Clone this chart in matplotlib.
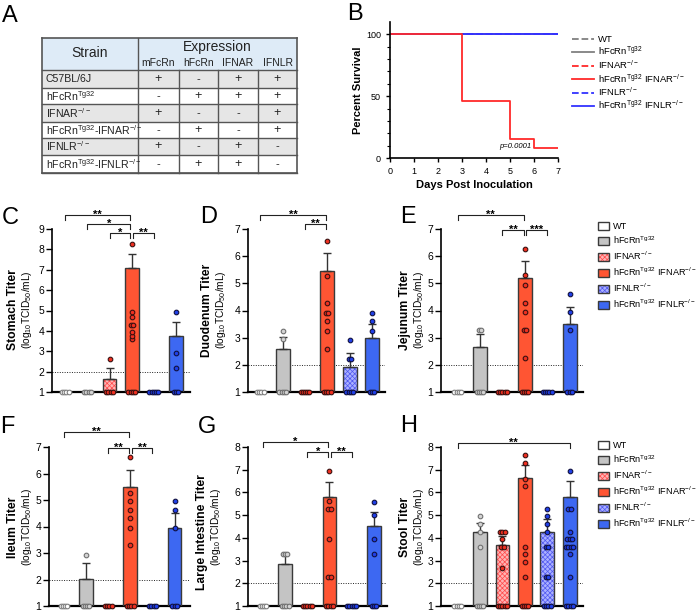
import matplotlib
matplotlib.use("Agg")
import matplotlib.pyplot as plt
from matplotlib.patches import Rectangle, Patch
import numpy as np

plt.rcParams['font.family'] = ['Liberation Sans', 'DejaVu Sans']
plt.rcParams['mathtext.fontset'] = 'custom'
plt.rcParams['mathtext.rm'] = 'Liberation Sans'
plt.rcParams['mathtext.it'] = 'Liberation Sans:italic'
plt.rcParams['mathtext.bf'] = 'Liberation Sans:bold'
plt.rcParams['hatch.linewidth'] = 0.5

W, H = 696, 613
TG = r'$^{\mathregular{Tg32}}$'
KO = r'$^{\mathregular{-/-}}$'

# ---- panel A table ----
strains = ['C57BL/6J', 'hFcRn' + TG, 'IFNAR' + KO, 'hFcRn' + TG + '-IFNAR' + KO,
           'IFNLR' + KO, 'hFcRn' + TG + '-IFNLR' + KO]
expr_cols = ['mFcRn', 'hFcRn', 'IFNAR', 'IFNLR']
expr = [['+', '-', '+', '+'],
        ['-', '+', '+', '+'],
        ['+', '-', '-', '+'],
        ['-', '+', '-', '+'],
        ['+', '-', '+', '-'],
        ['-', '+', '+', '-']]

# ---- panel B survival ----
surv_days = [0, 3, 5, 6, 7]
surv_ifnar_hfcrn = [100, 46, 15, 8, 8]
surv_flat_days = [0, 7]
surv_flat = [100, 100]

# ---- bar panels ----
groups = ['WT', 'hFcRn' + TG, 'IFNAR' + KO, 'hFcRn' + TG + ' IFNAR' + KO,
          'IFNLR' + KO, 'hFcRn' + TG + ' IFNLR' + KO]

stomach_mean = [1, 1, 1.62, 7.1, 1, 3.75]
stomach_sem = [0, 0, 0.58, 0.68, 0, 0.7]
stomach_pts = [[1] * 4, [1] * 4, [2.6] + [1] * 4,
               [8.25, 4.93, 4.66, 4.3, 4.3, 3.95, 3.75, 3.6] + [1] * 4,
               [1] * 5, [4.93, 2.93, 2.2] + [1] * 3]

duod_mean = [1, 2.57, 1, 5.45, 1.93, 3.0]
duod_sem = [0, 0.46, 0, 0.68, 0.51, 0.5]
duod_pts = [[1] * 4, [3.25, 2.95] + [1] * 4, [1] * 5,
            [6.57, 5.27, 4.26, 3.92, 3.92, 3.62, 3.25, 2.6] + [1] * 4,
            [2.9, 2.23, 2.23] + [1] * 4, [3.92, 3.62, 3.25] + [1] * 3]

jej_mean = [1, 2.66, 1, 5.18, 1, 3.52]
jej_sem = [0, 0.46, 0, 0.64, 0, 0.62]
jej_pts = [[1] * 4, [3.27, 3.27] + [1] * 4, [1] * 5,
           [6.26, 5.3, 4.94, 4.28, 3.94, 3.28, 3.28, 2.25] + [1] * 4,
           [1] * 5, [4.59, 3.95, 3.28] + [1] * 3]

ileum_mean = [1, 2.02, 1, 5.5, 1, 3.95]
ileum_sem = [0, 0.59, 0, 0.64, 0, 0.57]
ileum_pts = [[1] * 4, [2.94] + [1] * 4, [1] * 4,
             [6.61, 5.28, 4.97, 4.64, 4.32, 3.95, 3.29] + [1] * 4,
             [1] * 4, [4.96, 4.64, 3.95] + [1] * 3]

li_mean = [1, 2.84, 1, 5.82, 1, 4.51]
li_sem = [0, 0.43, 0, 0.66, 0, 0.62]
li_pts = [[1] * 4, [3.3] * 3 + [1] * 4, [1] * 5,
          [6.95, 5.62, 5.28, 5.28, 3.94, 2.26, 2.26] + [1] * 4,
          [1] * 5, [5.6, 4.99, 3.95, 3.3] + [1] * 3]

stool_mean = [1, 4.27, 3.67, 6.64, 4.27, 5.81]
stool_sem = [0, 0.4, 0.43, 0.57, 0.57, 0.68]
stool_pts = [[1] * 4, [4.96, 4.63, 4.27, 3.6] + [1] * 4,
             [4.27, 4.27, 4.27, 3.96, 3.6, 3.6, 2.68] + [1] * 5,
             [7.64, 7.31, 6.61, 6.28, 3.6, 3.27, 2.95, 2.26] + [1] * 4,
             [5.28, 4.95, 4.59, 4.27, 3.6, 3.6, 2.26, 2.26] + [1] * 4,
             [6.95, 5.28, 5.28, 4.27, 3.95, 3.95, 3.95, 3.6, 3.6, 3.6, 3.6, 3.27, 2.26] + [1] * 4]

# styles
bar_face = ['white', '#c4c4c4', '#ffb4b4', '#ff5533', '#aab0ff', '#3d68f2']
bar_hatch = [None, None, 'xxxxxxx', None, 'xxxxxxx', None]
hatch_col = [None, None, '#ff4a4a', None, '#5058f0', None]
pt_face = ['white', '#d4d4d4', '#f03020', '#f03020', '#2040e8', '#2040e8']
pt_edge = ['#808080', '#707070', '#3a1010', '#3a1010', '#101040', '#101040']
EDGE = '#3a3a3a'

fig = plt.figure(figsize=(W / 100, H / 100), dpi=100)


def fx(x):
    return x / W


def fy(y):
    return 1 - y / H


def add_ax(l, t, r, b):
    return fig.add_axes([l / W, 1 - b / H, (r - l) / W, (b - t) / H])


# overlay in pixel coordinates for the table
ax0 = fig.add_axes([0, 0, 1, 1])
ax0.set_xlim(0, W)
ax0.set_ylim(H, 0)
ax0.axis('off')

col_edges = [42, 138, 179, 218, 258, 297]
row_edges = [70, 88, 104, 122, 138, 155, 173]
hdr_top = 38
tcol = '#555555'
ax0.add_patch(Rectangle((42, hdr_top), 255, 70 - hdr_top, facecolor='#deebf7', edgecolor='none'))
for i in range(6):
    fc = '#e6e6e6' if i % 2 == 0 else 'white'
    ax0.add_patch(Rectangle((42, row_edges[i]), 255, row_edges[i + 1] - row_edges[i],
                            facecolor=fc, edgecolor='none'))
for y in row_edges:
    ax0.plot([42, 297], [y, y], color=tcol, lw=1)
ax0.plot([42, 297], [hdr_top, hdr_top], color=tcol, lw=1.2)
ax0.plot([42, 297], [173, 173], color=tcol, lw=1.2)
ax0.plot([42, 42], [hdr_top, 173], color=tcol, lw=1.2)
ax0.plot([297, 297], [hdr_top, 173], color=tcol, lw=1.2)
ax0.plot([138, 138], [hdr_top, 173], color=tcol, lw=1)
for x in col_edges[2:-1]:
    ax0.plot([x, x], [70, 173], color=tcol, lw=1)
ax0.text(90, 53, 'Strain', ha='center', va='center', fontsize=10, color='#222222')
ax0.text(217, 47, 'Expression', ha='center', va='center', fontsize=10, color='#222222')
for j, c in enumerate(expr_cols):
    ax0.text((col_edges[j + 1] + col_edges[j + 2]) / 2, 63, c, ha='center', va='center',
             fontsize=7.5, color='#222222')
for i, s in enumerate(strains):
    yc = (row_edges[i] + row_edges[i + 1]) / 2
    ax0.text(46, yc, s, ha='left', va='center', fontsize=7.6, color='#222222')
    for j, v in enumerate(expr[i]):
        ax0.text((col_edges[j + 1] + col_edges[j + 2]) / 2, yc, v, ha='center', va='center',
                 fontsize=9 if v == '+' else 8, color='#222222')

# ---- panel B ----
axb = add_ax(390, 22, 558, 158)
gray, red, blue = '#808080', '#ff2a2a', '#3333ff'
l_wt, = axb.plot(surv_flat_days, surv_flat, color=gray, ls='--', lw=1.3)
l_hf, = axb.plot(surv_flat_days, surv_flat, color=gray, lw=1.3)
l_ifnar, = axb.plot(surv_flat_days, surv_flat, color=red, ls='--', lw=1.3)
l_ifnlr, = axb.plot(surv_flat_days, surv_flat, color=blue, ls='--', lw=1.3)
l_hifnlr, = axb.plot(surv_flat_days, surv_flat, color=blue, lw=1.3)
l_hifnar, = axb.step(surv_days, surv_ifnar_hfcrn, where='post', color=red, lw=1.3)
axb.set_xlim(0, 7)
axb.set_ylim(0, 110)
axb.set_yticks([0, 50, 100])
axb.set_yticks(range(0, 101, 10), minor=True)
axb.set_xticks(range(8))
for s in ['top', 'right']:
    axb.spines[s].set_visible(False)
for s in ['left', 'bottom']:
    axb.spines[s].set_linewidth(1.2)
axb.tick_params(labelsize=6.5, length=3, width=1)
axb.tick_params(which='minor', length=2, width=0.8)
axb.set_xlabel('Days Post Inoculation', fontsize=8, fontweight='bold', labelpad=3)
axb.set_ylabel('Percent Survival', fontsize=8, fontweight='bold', labelpad=2)
axb.text(5.88, 9.5, 'p=0.0001', fontsize=5.5, style='italic', ha='right', va='center')
fig.legend([l_wt, l_hf, l_ifnar, l_hifnar, l_ifnlr, l_hifnlr], groups, loc='upper left',
           bbox_to_anchor=(fx(572), fy(35)), frameon=False, fontsize=6.8, handlelength=2.3,
           handletextpad=0.45, labelspacing=0.08, borderpad=0, borderaxespad=0)


def bar_panel(box, xl, ytop, mean, sem, pts, brackets, drop):
    ax = add_ax(*box)
    x = np.arange(6)
    for i in range(6):
        if bar_hatch[i]:
            ax.bar(x[i], mean[i] - 1, bottom=1, width=0.62, facecolor=bar_face[i],
                   hatch=bar_hatch[i], edgecolor=hatch_col[i], linewidth=0, zorder=2)
        else:
            ax.bar(x[i], mean[i] - 1, bottom=1, width=0.62, facecolor=bar_face[i],
                   linewidth=0, zorder=2)
        ax.bar(x[i], mean[i] - 1, bottom=1, width=0.62, facecolor='none', edgecolor=EDGE,
               linewidth=1, zorder=3)
        if sem[i] > 0:
            ax.errorbar(x[i], mean[i], yerr=[[0], [sem[i]]], fmt='none', ecolor='#333333',
                        elinewidth=1, capsize=3, capthick=1, zorder=3)
        vals = np.array(pts[i])
        for v in np.unique(vals):
            n = int((vals == v).sum())
            off = (np.arange(n) - (n - 1) / 2) * 0.1
            ax.scatter(x[i] + off, [v] * n, s=11, facecolor=pt_face[i], edgecolor=pt_edge[i],
                       linewidth=0.8, zorder=5, clip_on=False)
    ax.axhline(2, color='#222222', lw=0.7, ls=(0, (1, 1.5)), zorder=1)
    ax.set_xlim(*xl)
    ax.set_ylim(1, ytop)
    ax.set_yticks(range(1, ytop + 1))
    ax.set_xticks([])
    for s in ['top', 'right']:
        ax.spines[s].set_visible(False)
    ax.spines['left'].set_linewidth(1.2)
    ax.spines['bottom'].set_linewidth(1.6)
    ax.tick_params(axis='y', labelsize=7.5, length=4, width=1, pad=1.5)
    for a, b, yb, lab in brackets:
        a2 = a + 0.06 if a == 3 else a
        b2 = b - 0.06 if b == 3 else b
        ax.plot([a2, a2, b2, b2], [yb - drop, yb, yb, yb - drop], color='#222222', lw=0.8,
                clip_on=False)
        ax.text((a2 + b2) / 2, yb - drop * 0.9, lab, ha='center', va='bottom', fontsize=8,
                fontweight='bold')
    return ax


bar_panel((52, 229, 190, 392), (-0.6, 5.63), 9, stomach_mean, stomach_sem, stomach_pts,
          [(0, 3, 9.69, '**'), (1, 3, 9.25, '*'), (2, 3, 8.8, '*'), (3, 4, 8.8, '**')], 0.25)
bar_panel((248, 229, 385, 392), (-0.55, 5.58), 7, duod_mean, duod_sem, duod_pts,
          [(0, 3, 7.51, '**'), (2, 3, 7.18, '**')], 0.18)
bar_panel((441, 229, 583, 392), (-0.75, 5.6), 7, jej_mean, jej_sem, jej_pts,
          [(0, 3, 7.51, '**'), (2, 3, 6.96, '**'), (3, 4, 6.96, '***')], 0.18)
bar_panel((49, 447, 190, 606), (-0.68, 5.7), 7, ileum_mean, ileum_sem, ileum_pts,
          [(0, 3, 7.55, '**'), (2, 3, 6.96, '**'), (3, 4, 6.96, '**')], 0.18)
bar_panel((248, 447, 387, 606), (-0.68, 5.6), 8, li_mean, li_sem, li_pts,
          [(0, 3, 8.22, '*'), (2, 3, 7.78, '*'), (3, 4, 7.78, '**')], 0.22)
bar_panel((441, 447, 583, 606), (-0.75, 5.6), 8, stool_mean, stool_sem, stool_pts,
          [(0, 5, 8.17, '**')], 0.22)

# y labels
ylab_norm = r'(log$_{\mathregular{10}}$TCID$_{\mathregular{50}}$/mL)'
for name, xb, xn, yc, yn in [('Stomach Titer', 13, 27, 310, 310),
                             ('Duodenum Titer', 207, 221, 310, 310),
                             ('Jejunum Titer', 405, 419, 310, 310),
                             ('Ileum Titer', 13, 27, 527, 527),
                             ('Large Intestine Titer', 202, 216, 532, 527),
                             ('Stool Titer', 405, 419, 527, 527)]:
    fig.text(fx(xb), fy(yc), name, rotation=90, ha='center', va='center', fontsize=8.7,
             fontweight='bold')
    fig.text(fx(xn), fy(yn), ylab_norm, rotation=90, ha='center', va='center', fontsize=7.3)

# legends
handles = []
for i in range(6):
    if bar_hatch[i]:
        h = (Patch(facecolor=bar_face[i], hatch=bar_hatch[i], edgecolor=hatch_col[i], lw=0),
             Patch(facecolor='none', edgecolor=EDGE, lw=1))
    else:
        h = Patch(facecolor=bar_face[i], edgecolor=EDGE, lw=1)
    handles.append(h)
for ytop in [222, 441]:
    fig.legend(handles, groups, loc='upper left', bbox_to_anchor=(fx(598), fy(ytop)),
               frameon=False, fontsize=6.6, handlelength=1.25, handleheight=1.0,
               handletextpad=0.4, labelspacing=0.38, borderpad=0, borderaxespad=0)

# panel letters
for lab, x, y in [('A', 2, 22), ('B', 347, 20), ('C', 2, 224), ('D', 200, 223), ('E', 400, 223),
                  ('F', 0, 433), ('G', 198, 433), ('H', 400, 432)]:
    fig.text(fx(x), fy(y), lab, fontsize=17, ha='left', va='baseline')

fig.savefig('out.png', dpi=100)
